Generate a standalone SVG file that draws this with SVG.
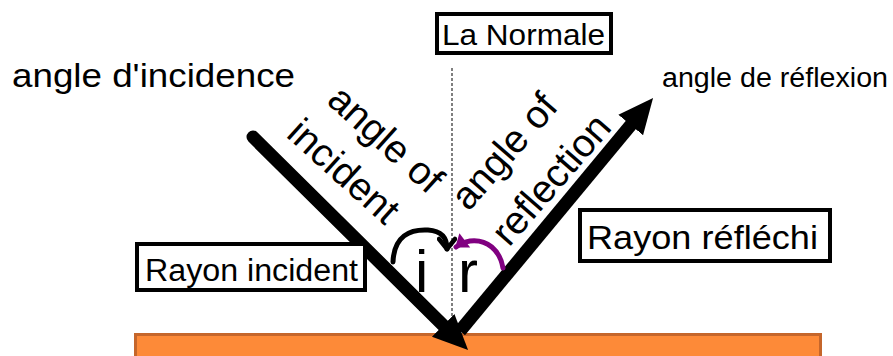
<svg xmlns="http://www.w3.org/2000/svg" width="893" height="356" viewBox="0 0 893 356">
<style>
text{font-family:"Liberation Sans",Arial,sans-serif;fill:#000}
.box{fill:#fff;stroke:#000;stroke-width:4}
.ray{stroke:#000;stroke-width:13;fill:none}
</style>
<defs>
<marker id="head" markerUnits="userSpaceOnUse" markerWidth="40" markerHeight="40" viewBox="0 -20 40 40" refX="10" refY="0" orient="auto">
<path d="M0,-16 L35,0 L0,16 Z" fill="#000"/>
</marker>
<marker id="openBlack" markerUnits="userSpaceOnUse" markerWidth="20" markerHeight="20" viewBox="-14 -10 20 20" refX="0" refY="0" orient="auto">
<path d="M-10,-8 L0,0 L-10,8" fill="none" stroke="#000" stroke-width="4.5" stroke-linecap="round" stroke-linejoin="round"/>
</marker>
<marker id="headPurple" markerUnits="userSpaceOnUse" markerWidth="20" markerHeight="24" viewBox="-14 -12 20 24" refX="0" refY="0" orient="auto">
<path d="M-11,-9 L1,0 L-11,9 Z" fill="#800080"/>
</marker>
</defs>
<rect id="surface" x="135.5" y="334.5" width="685" height="30" fill="#fd8a38" stroke="#c5662b" stroke-width="3"/>
<line id="normal-line" x1="452" y1="68" x2="452" y2="330" stroke="#555" stroke-width="1.5" stroke-dasharray="3,2"/>
<g id="connectors">
<line class="ray" x1="253" y1="137" x2="450.3" y2="332.3" stroke-linecap="round" marker-end="url(#head)"/>
<line class="ray" x1="460" y1="331" x2="637.1" y2="117.3" marker-end="url(#head)"/>
<path d="M393,262 C394,236 410,229 428,230 C442,231 447,238 447,249" fill="none" stroke="#000" stroke-width="5" stroke-linecap="round" marker-end="url(#openBlack)"/>
<path d="M503,268 C500,250 487,239 470,241 C464,242 460,244 456,247" fill="none" stroke="#800080" stroke-width="5" stroke-linecap="round" marker-end="url(#headPurple)"/>
</g>
<g id="la-normale">
<rect class="box" x="437" y="14" width="174" height="39"/>
<text x="442" y="45" font-size="30" textLength="163" lengthAdjust="spacingAndGlyphs">La Normale</text>
</g>
<g id="rayon-incident">
<rect class="box" x="137" y="244" width="228" height="46"/>
<text x="145" y="281" font-size="31" textLength="213" lengthAdjust="spacingAndGlyphs">Rayon incident</text>
</g>
<g id="rayon-reflechi">
<rect class="box" x="580" y="210" width="250" height="51"/>
<text x="587" y="249" font-size="33" textLength="231" lengthAdjust="spacingAndGlyphs">Rayon réfléchi</text>
</g>
<g id="angle-incidence-label">
<text x="12" y="87" font-size="34" textLength="283" lengthAdjust="spacingAndGlyphs">angle d'incidence</text>
</g>
<g id="angle-reflexion-label">
<text x="662" y="87" font-size="27" textLength="226" lengthAdjust="spacingAndGlyphs">angle de réflexion</text>
</g>
<g id="angle-of-incident">
<text transform="translate(377,149) rotate(42)" font-size="39" text-anchor="middle">angle of</text>
<text transform="translate(335,181) rotate(42)" font-size="39" text-anchor="middle">incident</text>
</g>
<g id="angle-of-reflection">
<text transform="translate(514,160) rotate(-49)" font-size="39" text-anchor="middle">angle of</text>
<text transform="translate(561,188) rotate(-49)" font-size="39" text-anchor="middle">reflection</text>
</g>
<g id="i-label"><text x="415" y="292" font-size="60">i</text></g>
<g id="r-label"><text x="458" y="292" font-size="60">r</text></g>
</svg>
